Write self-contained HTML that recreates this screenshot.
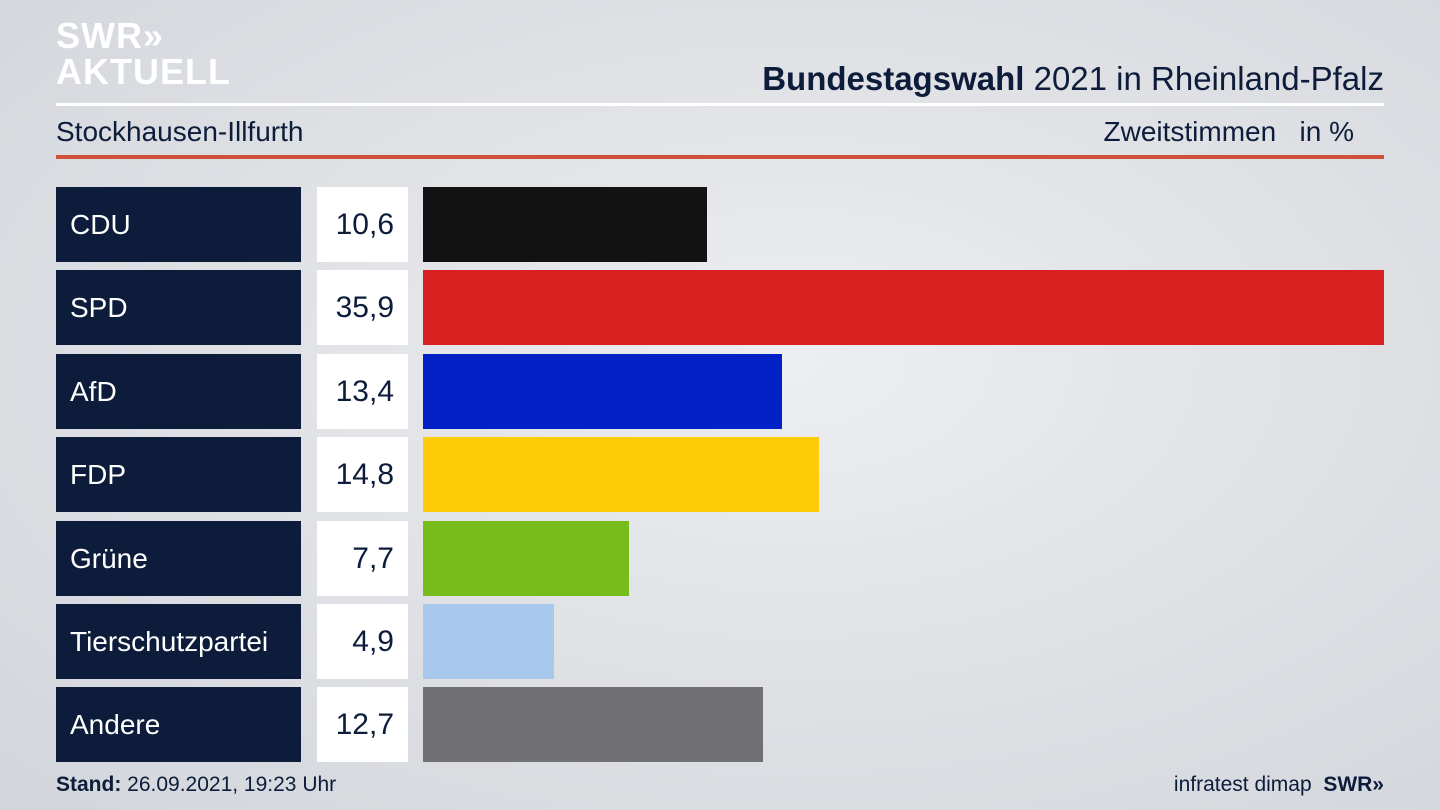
<!DOCTYPE html>
<html><head><meta charset="utf-8"><style>
html,body{margin:0;padding:0}
body{width:1440px;height:810px;overflow:hidden;position:relative;font-family:"Liberation Sans",sans-serif;
background:radial-gradient(ellipse at 55% 45%,#eceef1 0%,#dfe1e5 50%,#d2d5da 100%);}
.abs{position:absolute}
.lbl{position:absolute;left:56px;width:245px;height:75px;background:#0c1c3a;color:#fff;font-size:28px;line-height:75px;padding-left:14px;box-sizing:border-box}
.val{position:absolute;left:317px;width:91px;height:75px;background:#fff;color:#0c1c3a;font-size:30px;line-height:75px;text-align:right;padding-right:14px;box-sizing:border-box}
.bar{position:absolute;height:75px}
</style></head><body>
<div class="abs" style="left:56px;top:18px;color:#fff;font-weight:bold;font-size:36px;line-height:36px;letter-spacing:1px">SWR»<br>AKTUELL</div>
<div class="abs" style="right:56px;top:60px;font-size:33px;color:#0c1c3a"><b>Bundestagswahl</b> 2021 in Rheinland-Pfalz</div>
<div class="abs" style="left:56px;top:103px;width:1328px;height:3px;background:#fff"></div>
<div class="abs" style="left:56px;top:116px;font-size:28px;color:#0c1c3a">Stockhausen-Illfurth</div>
<div class="abs" style="right:86px;top:116px;font-size:28px;color:#0c1c3a">Zweitstimmen &nbsp;&nbsp;in %</div>
<div class="abs" style="left:56px;top:155px;width:1328px;height:4px;background:#d0503c"></div>
<div id="chart"></div>
<div class="abs" style="left:56px;top:773px;font-size:21px;color:#0c1c3a"><b>Stand:</b> 26.09.2021, 19:23 Uhr</div>
<div class="abs" style="right:56px;top:773px;font-size:21px;color:#0c1c3a">infratest dimap &nbsp;<b>SWR»</b></div>
<script>
const parties=["CDU","SPD","AfD","FDP","Grüne","Tierschutzpartei","Andere"];
const values=[10.6,35.9,13.4,14.8,7.7,4.9,12.7];
const labels=["10,6","35,9","13,4","14,8","7,7","4,9","12,7"];
const colors=["#121212","#d82020","#0222c8","#fecc08","#78bc1c","#a8c8ee","#717175"];
const x0=423,xMax=1384,maxV=Math.max(...values);
const xs=v=>v/maxV*(xMax-x0);
const ys=i=>187+i*83.4;
const c=document.getElementById('chart');
parties.forEach((p,i)=>{
 const l=document.createElement('div');l.className='lbl';l.style.top=ys(i)+'px';l.textContent=p;
 
 
 const v=document.createElement('div');v.className='val';v.style.top=ys(i)+'px';v.textContent=labels[i];
 
 
 const b=document.createElement('div');b.className='bar';b.style.top=ys(i)+'px';b.style.left=x0+'px';b.style.width=xs(values[i])+'px';b.style.background=colors[i];
 
 
 c.append(l,v,b);
});
</script>
</body></html>
